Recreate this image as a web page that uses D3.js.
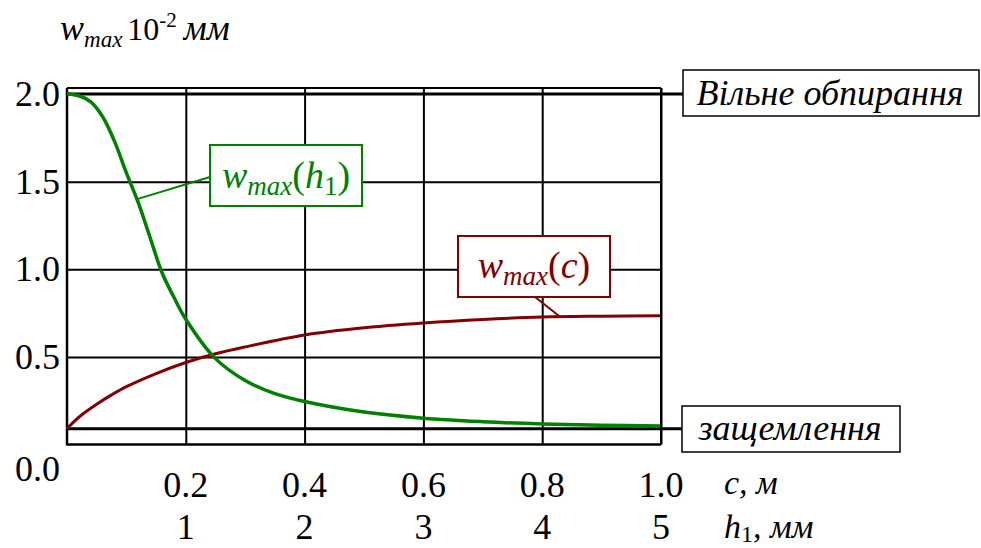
<!DOCTYPE html>
<html>
<head>
<meta charset="utf-8">
<script src="https://cdn.jsdelivr.net/npm/d3@7"></script>
<style>
    body { margin: 0; background: #fff; font-family: "Liberation Serif", serif; }
    #preload { position: absolute; left: 0; top: 0; visibility: hidden; font-size: 20px; }
    #chart { position: absolute; left: 0; top: 0; }
</style>
</head>
<body>
<div id="preload">Вільне 2.0 <i>защемлення w max мм</i></div>
<svg id="chart" width="981" height="548"></svg>
<script>
    // tick values
    const cTicks = [0.2, 0.4, 0.6, 0.8, 1.0];
    const hTicks = [1, 2, 3, 4, 5];
    const yTicks = [0.5, 1.0, 1.5, 2.0];

    // w_max(h1), h1 in mm
    const hValues = [0, 0.1, 0.2, 0.3, 0.4, 0.5, 0.6, 0.7, 0.8, 0.9, 1.0, 1.25, 1.5, 1.75, 2.0, 2.5, 3.0, 3.5, 4.0, 4.5, 5.0];
    const wByH    = [2.0, 1.99, 1.955, 1.87, 1.73, 1.55, 1.38, 1.18, 0.98, 0.84, 0.715, 0.49, 0.365, 0.29, 0.245, 0.185, 0.15, 0.13, 0.117, 0.11, 0.105];

    // w_max(c), c in m
    const cValues = [0, 0.01, 0.025, 0.05, 0.075, 0.1, 0.15, 0.2, 0.25, 0.3, 0.4, 0.5, 0.6, 0.7, 0.8, 0.9, 1.0];
    const wByC    = [0.09, 0.125, 0.17, 0.23, 0.283, 0.33, 0.405, 0.468, 0.518, 0.557, 0.625, 0.666, 0.693, 0.713, 0.727, 0.732, 0.735];

    // limiting cases
    const freeLevel = 2.0;    // Вільне обпирання
    const clampLevel = 0.09;  // защемлення

    // leader anchors on the curves
    const greenAnchor = [0.59, 1.40];
    const redAnchor = [0.83, 0.729];

    const svg = d3.select("#chart");
    const green = "#008000", red = "#800000";
    const FONT = "Liberation Serif";

    const x = d3.scaleLinear().domain([0, 1]).range([67, 661]);
    const xh = d3.scaleLinear().domain([0, 5]).range([67, 661]);
    const y = d3.scaleLinear().domain([0, 2]).range([444.5, 94]);
    const frameTop = y(2) - 6;

    // grid
    svg.append("g")
        .attr("transform", `translate(0,${y(0)})`)
        .call(d3.axisBottom(x).tickValues(cTicks).tickSize(-(y(0) - frameTop)).tickFormat(""))
        .call(g => g.select(".domain").remove())
        .call(g => g.selectAll("line").attr("stroke", "#000").attr("stroke-width", 2));

    svg.append("g")
        .attr("transform", `translate(${x(0)},0)`)
        .call(d3.axisLeft(y).tickValues(yTicks.filter(v => v < 2)).tickSize(-(x(1) - x(0))).tickFormat(""))
        .call(g => g.select(".domain").remove())
        .call(g => g.selectAll("line").attr("stroke", "#000").attr("stroke-width", 2));

    // frame
    svg.append("line").attr("x1", x(0)).attr("x2", x(1)).attr("y1", frameTop).attr("y2", frameTop)
        .attr("stroke", "#000").attr("stroke-width", 2);
    svg.append("line").attr("x1", x(0)).attr("x2", x(1)).attr("y1", y(0)).attr("y2", y(0))
        .attr("stroke", "#000").attr("stroke-width", 2.5);
    svg.append("line").attr("x1", x(0)).attr("x2", x(0)).attr("y1", frameTop).attr("y2", y(0) + 1)
        .attr("stroke", "#000").attr("stroke-width", 2.5);

    // limit lines with boxed labels
    svg.append("line").attr("x1", x(0)).attr("x2", 683).attr("y1", y(freeLevel)).attr("y2", y(freeLevel))
        .attr("stroke", "#000").attr("stroke-width", 3);
    svg.append("line").attr("x1", x(0)).attr("x2", 682).attr("y1", y(clampLevel)).attr("y2", y(clampLevel))
        .attr("stroke", "#000").attr("stroke-width", 3);

    svg.append("rect").attr("x", 683).attr("y", 70).attr("width", 296).attr("height", 46)
        .attr("fill", "#fff").attr("stroke", "#000").attr("stroke-width", 1.5);
    svg.append("text").attr("x", 830).attr("y", 105).attr("text-anchor", "middle")
        .attr("font-size", 36).attr("font-style", "italic").text("Вільне обпирання");

    svg.append("rect").attr("x", 682).attr("y", 406).attr("width", 218).attr("height", 46)
        .attr("fill", "#fff").attr("stroke", "#000").attr("stroke-width", 1.5);
    svg.append("text").attr("x", 790).attr("y", 440).attr("text-anchor", "middle")
        .attr("font-size", 36).attr("font-style", "italic").text("защемлення");

    // curves
    const lineH = d3.line().x(d => xh(d[0])).y(d => y(d[1])).curve(d3.curveCatmullRom.alpha(0.5));
    const lineC = d3.line().x(d => x(d[0])).y(d => y(d[1])).curve(d3.curveCatmullRom.alpha(0.5));

    svg.append("path").datum(cValues.map((c, i) => [c, wByC[i]]))
        .attr("d", lineC).attr("fill", "none").attr("stroke", red).attr("stroke-width", 3);
    svg.append("path").datum(hValues.map((h, i) => [h, wByH[i]]))
        .attr("d", lineH).attr("fill", "none").attr("stroke", green).attr("stroke-width", 3.5);

    // right border over the curves
    svg.append("line").attr("x1", x(1)).attr("x2", x(1)).attr("y1", frameTop).attr("y2", y(0))
        .attr("stroke", "#000").attr("stroke-width", 2);

    // curve labels
    function subLabel(cx, cy, color, arg, argSub) {
        const t = svg.append("text").attr("x", cx).attr("y", cy).attr("text-anchor", "middle")
            .attr("font-size", 38).attr("fill", color);
        t.append("tspan").attr("font-style", "italic").text("w");
        t.append("tspan").attr("font-style", "italic").attr("font-size", 27).attr("dy", 7).text("max");
        t.append("tspan").attr("dy", -7).text("(");
        t.append("tspan").attr("font-style", "italic").text(arg);
        if (argSub) {
            t.append("tspan").attr("font-size", 27).attr("dy", 7).text(argSub);
            t.append("tspan").attr("dy", -7).text(")");
        } else {
            t.append("tspan").text(")");
        }
    }

    svg.append("line").attr("x1", xh(greenAnchor[0])).attr("y1", y(greenAnchor[1])).attr("x2", 210).attr("y2", 177)
        .attr("stroke", green).attr("stroke-width", 2);
    svg.append("rect").attr("x", 210).attr("y", 145).attr("width", 152).attr("height", 61)
        .attr("fill", "#fff").attr("stroke", green).attr("stroke-width", 2);
    subLabel(286, 188, green, "h", "1");

    svg.append("line").attr("x1", x(redAnchor[0])).attr("y1", y(redAnchor[1])).attr("x2", 535).attr("y2", 297)
        .attr("stroke", red).attr("stroke-width", 2);
    svg.append("rect").attr("x", 458).attr("y", 236).attr("width", 152).attr("height", 61)
        .attr("fill", "#fff").attr("stroke", red).attr("stroke-width", 2);
    subLabel(534, 278, red, "c", null);

    // y tick labels
    svg.append("g")
        .selectAll("text").data(yTicks).join("text")
        .attr("x", 60).attr("y", d => y(d) + 12).attr("text-anchor", "end")
        .attr("font-size", 36).text(d => d.toFixed(1));
    svg.append("text").attr("x", 60).attr("y", y(0) + 36).attr("text-anchor", "end")
        .attr("font-size", 36).text("0.0");

    // x tick labels (two scales)
    svg.append("g")
        .selectAll("text").data(cTicks).join("text")
        .attr("x", d => x(d)).attr("y", 497).attr("text-anchor", "middle")
        .attr("font-size", 36).text(d => d.toFixed(1));
    svg.append("g")
        .selectAll("text").data(hTicks).join("text")
        .attr("x", d => xh(d)).attr("y", 539).attr("text-anchor", "middle")
        .attr("font-size", 36).text(d => d);

    const cTitle = svg.append("text").attr("x", 724).attr("y", 494).attr("font-size", 34).attr("font-style", "italic");
    cTitle.append("tspan").text("c, м");

    const hTitle = svg.append("text").attr("x", 724).attr("y", 538).attr("font-size", 34).attr("font-style", "italic");
    hTitle.append("tspan").text("h");
    hTitle.append("tspan").attr("font-style", "normal").attr("font-size", 24).attr("dy", 4).text("1");
    hTitle.append("tspan").attr("dy", -4).text(", мм");

    // y axis title
    const yTitle = svg.append("text").attr("x", 60).attr("y", 40).attr("font-size", 32);
    yTitle.append("tspan").attr("font-style", "italic").attr("font-size", 36).text("w");
    yTitle.append("tspan").attr("font-style", "italic").attr("font-size", 23).attr("dy", 7).text("max");
    yTitle.append("tspan").attr("dy", -7).attr("dx", 5).text("10");
    yTitle.append("tspan").attr("font-size", 21).attr("dy", -13).text("-2");
    yTitle.append("tspan").attr("font-style", "italic").attr("font-size", 36).attr("dy", 13).attr("dx", 7).text("мм");

    svg.selectAll("text").attr("font-family", FONT);
</script>
</body>
</html>
